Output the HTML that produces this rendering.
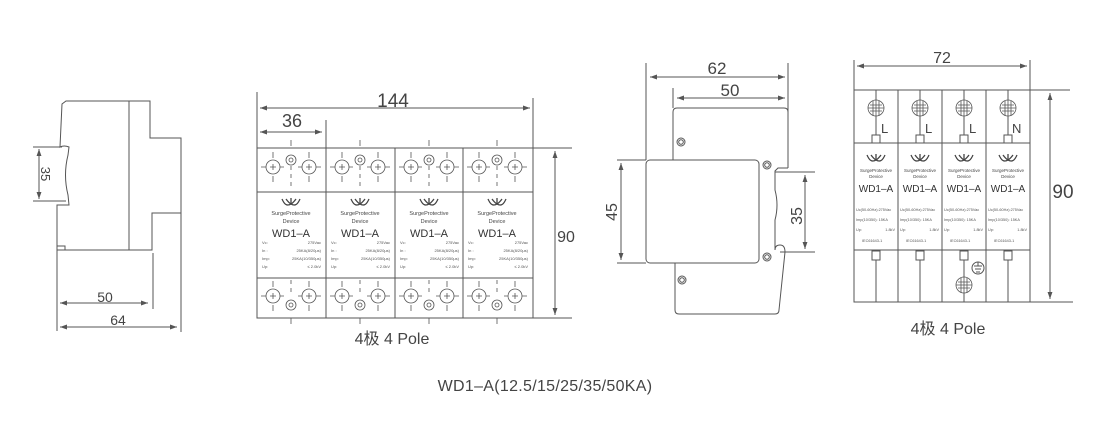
<!DOCTYPE html>
<html><head><meta charset="utf-8"><style>
html,body{margin:0;padding:0;background:#fff;}
svg{display:block;font-family:"Liberation Sans","Noto Sans CJK SC",sans-serif;}
</style></head><body>
<svg width="1120" height="431" viewBox="0 0 1120 431" xmlns="http://www.w3.org/2000/svg">
<defs>
<marker id="a" viewBox="0 0 10 10" refX="10" refY="5" markerWidth="7" markerHeight="7" orient="auto-start-reverse"><path d="M0,1.5 L10,5 L0,8.5 z" fill="#555"/></marker>
<g id="logo" fill="none" stroke="#444" stroke-width="1.3">
<path d="M-8,-2 Q-5,4 0,1 Q5,4 8,-2"/><path d="M-5,-4 Q-2,0 0,1 Q2,0 5,-4"/><path d="M0,-5 L0,1"/><path d="M-8,-2 l-1,-2 M8,-2 l1,-2"/>
</g>
<g id="ftop" fill="none" stroke="#555" stroke-width="0.8">
<circle cx="16" cy="167" r="7"/><circle cx="52" cy="167" r="7"/>
<path d="M13,167h6M16,164v6M49,167h6M52,164v6"/>
<path d="M4,167h5M23,167h4M41,167h4M59,167h5M16,152v6M16,176v6M52,152v6M52,176v6"/>
<circle cx="34" cy="160" r="5"/><circle cx="34" cy="160" r="2"/>
<path d="M34,140v6M34,166v4M34,174v4M34,182v4"/>
</g>
<g id="fbot" fill="none" stroke="#555" stroke-width="0.8">
<circle cx="16" cy="298" r="7"/><circle cx="52" cy="298" r="7"/>
<path d="M13,298h6M16,295v6M49,298h6M52,295v6"/>
<path d="M4,298h5M23,298h4M41,298h4M59,298h5M16,283v6M16,307v6M52,283v6M52,307v6"/>
<circle cx="34" cy="307" r="5"/><circle cx="34" cy="307" r="2"/>
<path d="M34,282v4M34,290v4M34,320v6"/>
</g>
<g id="term" fill="none" stroke="#555" stroke-width="0.8">
<circle r="8"/><path d="M-8,0h16M0,-8v16M-6,-3h12M-6,3h12M-3,-7v14M3,-7v14"/>
</g>
</defs>

<g fill="none" stroke="#555" stroke-width="1">
<path d="M66,101 L150,101 L150,138 L181,138 L181,213 L152,213 L152,250 L57,250 L57,205 L69,205 L68,195 Q63,175 68,155 L69,147 Q64,145 60,147 L62,104 Z"/>
<path d="M129,101V250"/>
<path d="M57,246h8v4"/>
<path d="M33,147H62M33,201H66"/>
<path d="M39,149V199" marker-start="url(#a)" marker-end="url(#a)"/>
<path d="M57,250V331M153,253V309M181,213V332"/>
<path d="M60,303H148" marker-start="url(#a)" marker-end="url(#a)"/>
<path d="M60,327H177" marker-start="url(#a)" marker-end="url(#a)"/>

<rect x="257" y="148" width="276" height="170"/>
<path d="M326,148V318M395,148V318M463,148V318M257,192H533M257,278H533"/>
<path d="M257,92V148M533,98V148M326,120V148M533,148H572M533,318H572"/>
<path d="M260,108H530" marker-start="url(#a)" marker-end="url(#a)"/>
<path d="M260,132H322" marker-start="url(#a)" marker-end="url(#a)"/>
<path d="M555,151V315" marker-start="url(#a)" marker-end="url(#a)"/>
</g>
<use href="#ftop" x="257"/><use href="#ftop" x="326"/><use href="#ftop" x="395"/><use href="#ftop" x="463"/>
<use href="#fbot" x="257" y="-2"/><use href="#fbot" x="326" y="-2"/><use href="#fbot" x="395" y="-2"/><use href="#fbot" x="463" y="-2"/>
<use href="#logo" x="291" y="203"/><use href="#logo" x="360" y="203"/><use href="#logo" x="429" y="203"/><use href="#logo" x="497" y="203"/>

<g fill="#444" font-size="5.5" text-anchor="middle">
<text x="291" y="215">SurgeProtective</text><text x="291" y="223">Device</text>
<text x="360" y="215">SurgeProtective</text><text x="360" y="223">Device</text>
<text x="429" y="215">SurgeProtective</text><text x="429" y="223">Device</text>
<text x="497" y="215">SurgeProtective</text><text x="497" y="223">Device</text>
</g>
<g fill="#333" font-size="11" text-anchor="middle">
<text x="291" y="237">WD1–A</text><text x="360" y="237">WD1–A</text><text x="429" y="237">WD1–A</text><text x="497" y="237">WD1–A</text>
</g>
<g fill="#555" font-size="4">
<text x="262" y="244">Vc:</text><text x="262" y="252">In :</text><text x="262" y="260">Imp:</text><text x="262" y="268">Up:</text>
<text x="331" y="244">Vc:</text><text x="331" y="252">In :</text><text x="331" y="260">Imp:</text><text x="331" y="268">Up:</text>
<text x="400" y="244">Vc:</text><text x="400" y="252">In :</text><text x="400" y="260">Imp:</text><text x="400" y="268">Up:</text>
<text x="468" y="244">Vc:</text><text x="468" y="252">In :</text><text x="468" y="260">Imp:</text><text x="468" y="268">Up:</text>
</g>
<g fill="#555" font-size="4" text-anchor="end">
<text x="321" y="244">275Vac</text><text x="321" y="252">25KA(8/20μs)</text><text x="321" y="260">25KA(10/350μs)</text><text x="321" y="268">≤ 2.0kV</text>
<text x="390" y="244">275Vac</text><text x="390" y="252">25KA(8/20μs)</text><text x="390" y="260">25KA(10/350μs)</text><text x="390" y="268">≤ 2.0kV</text>
<text x="459" y="244">275Vac</text><text x="459" y="252">25KA(8/20μs)</text><text x="459" y="260">25KA(10/350μs)</text><text x="459" y="268">≤ 2.0kV</text>
<text x="528" y="244">275Vac</text><text x="528" y="252">25KA(8/20μs)</text><text x="528" y="260">25KA(10/350μs)</text><text x="528" y="268">≤ 2.0kV</text>
</g>

<g fill="none" stroke="#555" stroke-width="1">
<path d="M673,160V112Q673,108 677,108H784Q788,108 788,112V168"/>
<path d="M788,168H778L775,171L775,190Q779,205 775,220L775,250"/>
<path d="M775,250Q775,245 780,245Q785,245 785,252L779,310Q779,314 775,314H679Q675,314 675,310V263"/>
<rect x="646" y="160" width="113" height="103" rx="4"/>
<circle cx="681" cy="142" r="4"/><circle cx="681" cy="142" r="2.3"/>
<circle cx="767" cy="165" r="4"/><circle cx="767" cy="165" r="2.3"/>
<circle cx="767" cy="257" r="4"/><circle cx="767" cy="257" r="2.3"/>
<circle cx="682" cy="280" r="4"/><circle cx="682" cy="280" r="2.3"/>
<path d="M646,63V160M788,63V168M673,88V108"/>
<path d="M650,77H785" marker-start="url(#a)" marker-end="url(#a)"/>
<path d="M677,98H785" marker-start="url(#a)" marker-end="url(#a)"/>
<path d="M617,160H646M617,263H646"/>
<path d="M621,163V260" marker-start="url(#a)" marker-end="url(#a)"/>
<path d="M775,172H815M780,252H815"/>
<path d="M805,175V249" marker-start="url(#a)" marker-end="url(#a)"/>

<rect x="854" y="90" width="176" height="212"/>
<path d="M898,90V302M942,90V302M986,90V302M854,143H1030M854,250H1030M1030,90H1070M854,302H1073"/>
<path d="M854,60V90M1030,60V90"/>
<path d="M857,66H1027" marker-start="url(#a)" marker-end="url(#a)"/>
<path d="M1050,93V299" marker-start="url(#a)" marker-end="url(#a)"/>
<path d="M876,90V100M876,116V135M920,90V100M920,116V135M964,90V100M964,116V135M1008,90V100M1008,116V135"/>
<rect x="872" y="135" width="8" height="8"/><rect x="916" y="135" width="8" height="8"/><rect x="960" y="135" width="8" height="8"/><rect x="1004" y="135" width="8" height="8"/>
<rect x="872" y="251" width="8" height="9"/><rect x="916" y="251" width="8" height="9"/><rect x="960" y="251" width="8" height="9"/><rect x="1004" y="251" width="8" height="9"/>
<path d="M876,260V302M920,260V302M964,260V277M964,293V302M1008,260V302"/>
<circle cx="978" cy="268" r="6"/><path d="M974,266h8M975,269h6M976,272h4M978,262v4"/>
</g>
<use href="#term" x="876" y="108"/><use href="#term" x="920" y="108"/><use href="#term" x="964" y="108"/><use href="#term" x="1008" y="108"/>
<use href="#term" x="964" y="285"/>
<use href="#logo" x="876" y="159"/><use href="#logo" x="920" y="159"/><use href="#logo" x="964" y="159"/><use href="#logo" x="1008" y="159"/>
<g fill="#444" font-size="13">
<text x="881" y="133">L</text><text x="925" y="133">L</text><text x="969" y="133">L</text><text x="1012" y="133">N</text>
</g>
<g fill="#444" font-size="4.5" text-anchor="middle">
<text x="876" y="172">SurgeProtective</text><text x="876" y="178">Device</text>
<text x="920" y="172">SurgeProtective</text><text x="920" y="178">Device</text>
<text x="964" y="172">SurgeProtective</text><text x="964" y="178">Device</text>
<text x="1008" y="172">SurgeProtective</text><text x="1008" y="178">Device</text>
</g>
<g fill="#333" font-size="10" text-anchor="middle">
<text x="876" y="192">WD1–A</text><text x="920" y="192">WD1–A</text><text x="964" y="192">WD1–A</text><text x="1008" y="192">WD1–A</text>
</g>
<g fill="#555" font-size="3.8">
<text x="856" y="211">Uc(50-60Hz):275Vac</text><text x="856" y="221">Imp(10/350): 15KA</text><text x="856" y="231">Up:</text><text x="862" y="242">IEC61643-1</text>
<text x="900" y="211">Uc(50-60Hz):275Vac</text><text x="900" y="221">Imp(10/350): 15KA</text><text x="900" y="231">Up:</text><text x="906" y="242">IEC61643-1</text>
<text x="944" y="211">Uc(50-60Hz):275Vac</text><text x="944" y="221">Imp(10/350): 15KA</text><text x="944" y="231">Up:</text><text x="950" y="242">IEC61643-1</text>
<text x="988" y="211">Uc(50-60Hz):275Vac</text><text x="988" y="221">Imp(10/350): 15KA</text><text x="988" y="231">Up:</text><text x="994" y="242">IEC61643-1</text>
<text x="895" y="231" text-anchor="end">1.8kV</text><text x="939" y="231" text-anchor="end">1.8kV</text><text x="983" y="231" text-anchor="end">1.8kV</text><text x="1027" y="231" text-anchor="end">1.8kV</text>
</g>

<g fill="#444" text-anchor="middle">
<text x="105" y="302" font-size="14">50</text>
<text x="118" y="325" font-size="14">64</text>
<text transform="translate(41,174) rotate(90)" font-size="13">35</text>
<text x="393" y="107" font-size="19">144</text>
<text x="292" y="127" font-size="18">36</text>
<text x="566" y="242" font-size="16">90</text>
<text x="392" y="344" font-size="16">4极 4 Pole</text>
<text x="717" y="74" font-size="17">62</text>
<text x="730" y="96" font-size="17">50</text>
<text transform="translate(617,212) rotate(-90)" font-size="16">45</text>
<text transform="translate(802,216) rotate(-90)" font-size="16">35</text>
<text x="942" y="63" font-size="16">72</text>
<text x="1063" y="198" font-size="19">90</text>
<text x="948" y="334" font-size="16">4极 4 Pole</text>
<text x="545" y="391" font-size="16" letter-spacing="0.3">WD1–A(12.5/15/25/35/50KA)</text>
</g>
</svg>
</body></html>
